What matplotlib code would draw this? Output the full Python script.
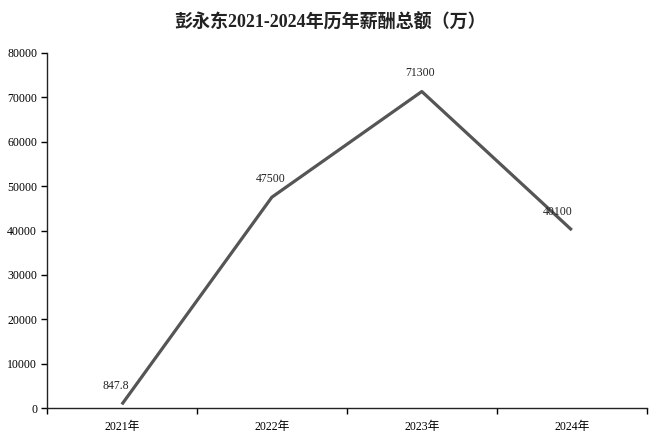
import matplotlib
matplotlib.use('Agg')
import matplotlib.pyplot as plt
import numpy as np

# data
years = ['2021年', '2022年', '2023年', '2024年']
pay = [847.8, 47500, 71300, 40100]
pay_labels = ['847.8', '47500', '71300', '40100']
# (dx, dy) label offsets in points
label_offsets = [(-4, 9), (-1, 9), (-1, 9), (-10, 9)]

serif = ['Liberation Serif', 'Noto Sans CJK SC']

fig = plt.figure(figsize=(6.6, 4.37), dpi=100)
ax = fig.add_axes([0.071, 0.066, 0.909, 0.813])

x = np.arange(len(years))
ax.plot(x, pay, color='#555555', linewidth=2.3, solid_capstyle='butt')

for xi, v, lab, off in zip(x, pay, pay_labels, label_offsets):
    ax.annotate(lab, (xi, v), xytext=off, textcoords='offset points',
                ha='center', va='bottom', fontsize=8.5, family=serif, color='#222222')

ax.set_xlim(-0.5, len(years) - 0.5)
ax.set_ylim(0, 80000)
ax.set_yticks(np.arange(0, 80001, 10000))
ax.set_yticklabels([str(v) for v in range(0, 80001, 10000)], family=serif, fontsize=8.5)

# category labels centred, tick marks on the boundaries
ax.set_xticks(np.arange(-0.5, len(years), 1.0))
ax.set_xticklabels([])
ax.set_xticks(x, minor=True)
ax.set_xticklabels(years, minor=True, family=serif, fontsize=8.5)
ax.tick_params(axis='x', which='minor', length=0, pad=9)
ax.tick_params(axis='x', which='major', length=4, direction='out', width=1)
ax.tick_params(axis='y', length=4, direction='out', width=1, pad=3)

for s in ['top', 'right']:
    ax.spines[s].set_visible(False)
for s in ['left', 'bottom']:
    ax.spines[s].set_linewidth(1.0)
    ax.spines[s].set_color('#222222')

fig.text(0.5, 0.948, '彭永东2021-2024年历年薪酬总额（万）', ha='center', va='center',
         fontsize=13, fontweight='bold', family=serif, color='#222222')

fig.savefig('out.png', dpi=100)
